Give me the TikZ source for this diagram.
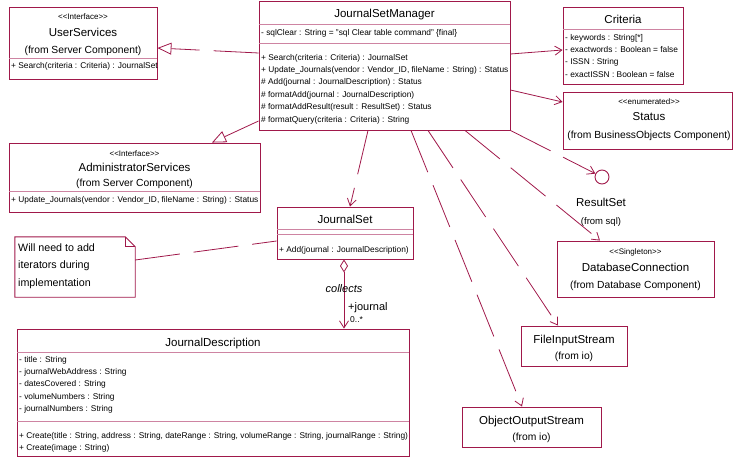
\documentclass[tikz,border=0pt]{standalone}
\usepackage{fontspec}
\setmainfont{Liberation Sans}
\usetikzlibrary{positioning,arrows.meta}
\definecolor{umlred}{RGB}{160,24,74}
\definecolor{umlpink}{RGB}{206,132,162}

\begin{document}
\begin{tikzpicture}[x=1pt,y=-1pt,
	cls/.style={draw=umlred,line width=0.9pt,inner sep=0pt,fill=white},
	div/.style={draw=umlpink,line width=0.9pt},
	nm/.style={font=\fontsize{11.5}{13}\selectfont,inner sep=0pt,anchor=base},
	ster/.style={font=\fontsize{8}{9}\selectfont,inner sep=0pt,anchor=base},
	frm/.style={font=\fontsize{10.3}{12}\selectfont,inner sep=0pt,anchor=base},
	mem/.style={font=\fontsize{8.35}{12.4}\selectfont,align=left,anchor=north west,inner sep=0pt},
	dep/.style={draw=umlred,line width=0.8pt,dash pattern=on 45pt off 14pt},
	assoc/.style={draw=umlred,line width=0.8pt},
	barb/.style={-{Straight Barb[length=7pt,width=9pt]}},
	real/.style={-{Triangle[open,fill=white,length=14pt,width=12pt]}}]
	\useasboundingbox (0,0) rectangle (733,457);

	% class boxes
	\node[cls,minimum width=148,minimum height=72] (us) at (83,43) {};
	\node[cls,minimum width=251,minimum height=129] (jsm) at (384.5,65.5) {};
	\node[cls,minimum width=120,minimum height=77] (cr) at (623,45.5) {};
	\node[cls,minimum width=169,minimum height=57] (st) at (647.5,120.5) {};
	\node[cls,minimum width=251,minimum height=69] (as) at (134.5,177.5) {};
	\node[cls,minimum width=136,minimum height=52] (js) at (345,233) {};
	\node[cls,minimum width=392,minimum height=127] (jd) at (213,392.5) {};
	\node[cls,minimum width=157,minimum height=56] (db) at (635.5,269) {};
	\node[cls,minimum width=106,minimum height=40] (fis) at (574,346) {};
	\node[cls,minimum width=139,minimum height=40] (oos) at (531.5,427) {};
	\node[draw=umlred,line width=0.9pt,circle,minimum size=14,inner sep=0pt] (rs) at (602,177) {};

	% compartments
	\draw[div] (9,58) -- (157,58);
	\draw[div] (259,24) -- (510,24);
	\draw[div] (259,43) -- (510,43);
	\draw[div] (563,29) -- (683,29);
	\draw[div] (9,191) -- (260,191);
	\draw[div] (277,229) -- (413,229);
	\draw[div] (277,234) -- (413,234);
	\draw[div] (17,352) -- (409,352);
	\draw[div] (17,421) -- (409,421);

	% UserServices
	\node[ster] (us-s) at (83,19.6) {<{}<Interface>{}>};
	\node[nm] (us-n) at (83,36.3) {UserServices};
	\node[frm] (us-f) at (83,53.5) {(from Server Component)};
	\node[mem] (us-o) at (11,59.5) {\strut+ Search(criteria : Criteria) : JournalSet};

	% JournalSetManager
	\node[nm] (jsm-n) at (384.5,18) {JournalSetManager};
	\node[mem] (jsm-a) at (261,26.3) {\strut- sqlClear : String = "sql Clear table command" \{final\}};
	\node[mem] (jsm-o) at (261,51.3) {\strut+ Search(criteria : Criteria) : JournalSet\\
		+ Update\_Journals(vendor : Vendor\_ID, fileName : String) : Status\\
		\# Add(journal : JournalDescription) : Status\\
		\# formatAdd(journal : JournalDescription)\\
		\# formatAddResult(result : ResultSet) : Status\\
		\# formatQuery(criteria : Criteria) : String};

	% Criteria
	\node[nm] (cr-n) at (623,24) {Criteria};
	\node[mem] (cr-a) at (565,31.3) {\strut- keywords : String[*]\\
		- exactwords : Boolean = false\\
		- ISSN : String\\
		- exactISSN : Boolean = false};

	% Status
	\node[ster] (st-s) at (649,104.8) {<{}<enumerated>{}>};
	\node[nm] (st-n) at (649,121) {Status};
	\node[frm] (st-f) at (649,138.7) {(from BusinessObjects Component)};

	% AdministratorServices
	\node[ster] (as-s) at (134.5,156.8) {<{}<Interface>{}>};
	\node[nm] (as-n) at (134.5,172) {AdministratorServices};
	\node[frm] (as-f) at (134.5,186.7) {(from Server Component)};
	\node[mem] (as-o) at (11,193.3) {\strut+ Update\_Journals(vendor : Vendor\_ID, fileName : String) : Status};

	% JournalSet
	\node[nm] (js-n) at (345,223) {JournalSet};
	\node[mem] (js-o) at (279,243.3) {\strut+ Add(journal : JournalDescription)};

	% note
	\node[minimum width=120,minimum height=60,inner sep=0pt] (note) at (75,267) {};
	\draw[umlred,line width=0.9pt,fill=white] (note.south west) -- (note.north west)
		-- ([xshift=-10pt]note.north east) -- ([yshift=-10pt]note.north east)
		-- (note.south east) -- cycle;
	\draw[umlred,line width=0.9pt] ([xshift=-10pt]note.north east)
		-- ([xshift=-10pt,yshift=-10pt]note.north east) -- ([yshift=-10pt]note.north east);
	\node[font=\fontsize{10.7}{17.5}\selectfont,align=left,anchor=north west,inner sep=0pt] (note-t)
		at (18,238.8) {\strut Will need to add\\iterators during\\implementation};

	% JournalDescription
	\node[nm] (jd-n) at (213,346) {JournalDescription};
	\node[mem] (jd-a) at (19,353.3) {\strut- title : String\\
		- journalWebAddress : String\\
		- datesCovered : String\\
		- volumeNumbers : String\\
		- journalNumbers : String};
	\node[mem] (jd-o) at (19,429.3) {\strut+ Create(title : String, address : String, dateRange : String, volumeRange : String, journalRange : String)\\
		+ Create(image : String)};

	% ResultSet
	\node[nm] (rs-n) at (601,207) {ResultSet};
	\node[frm,font=\fontsize{9.5}{11}\selectfont] (rs-f) at (601,224.7) {(from sql)};

	% DatabaseConnection
	\node[ster] (db-s) at (635.5,254.8) {<{}<Singleton>{}>};
	\node[nm] (db-n) at (635.5,271) {DatabaseConnection};
	\node[frm] (db-f) at (635.5,288.7) {(from Database Component)};

	% FileInputStream, ObjectOutputStream
	\node[nm] (fis-n) at (574,343) {FileInputStream};
	\node[frm] (fis-f) at (574,359.7) {(from io)};
	\node[nm] (oos-n) at (531.5,424) {ObjectOutputStream};
	\node[frm] (oos-f) at (531.5,440.7) {(from io)};

	% connectors
	\draw[dep,real] (jsm.west |- 0,53) -- (us.east |- 0,48);
	\draw[dep,real] (jsm.west |- 0,121) -- (as.north -| 212,0);
	\draw[assoc,barb] (jsm.east |- 0,54) -- (cr.west |- 0,50);
	\draw[assoc,barb] (jsm.east |- 0,90) -- (st.west |- 0,102);
	\draw[dep,barb] (jsm.south east) -- (rs);
	\draw[dep,barb] (jsm.south -| 465,0) -- (db.north -| 600,0);
	\draw[dep,barb] (jsm.south -| 428,0) -- (fis.north -| 558,0);
	\draw[dep,barb] (jsm.south -| 411,0) -- (oos.north -| 522,0);
	\draw[dep,barb] (jsm.south -| 368,0) -- (js.north -| 350,0);
	\draw[dep] (note.east |- 0,260) -- (js.west |- 0,241);
	\draw[assoc,{Diamond[open,fill=white,length=13pt,width=8pt]}-{Straight Barb[length=7pt,width=9pt]}]
		(js.south -| 344,0) -- (jd.north -| 344,0);

	% association labels
	\node[font=\fontsize{11}{13}\itshape\selectfont,inner sep=0pt,anchor=base] (agg-l) at (344,292) {collects};
	\node[font=\fontsize{11}{13}\selectfont,inner sep=0pt,anchor=base west] (agg-r) at (348,310) {+journal};
	\node[font=\fontsize{8.5}{9}\selectfont,inner sep=0pt,anchor=base west] (agg-m) at (350,322) {0..*};
\end{tikzpicture}
\end{document}
